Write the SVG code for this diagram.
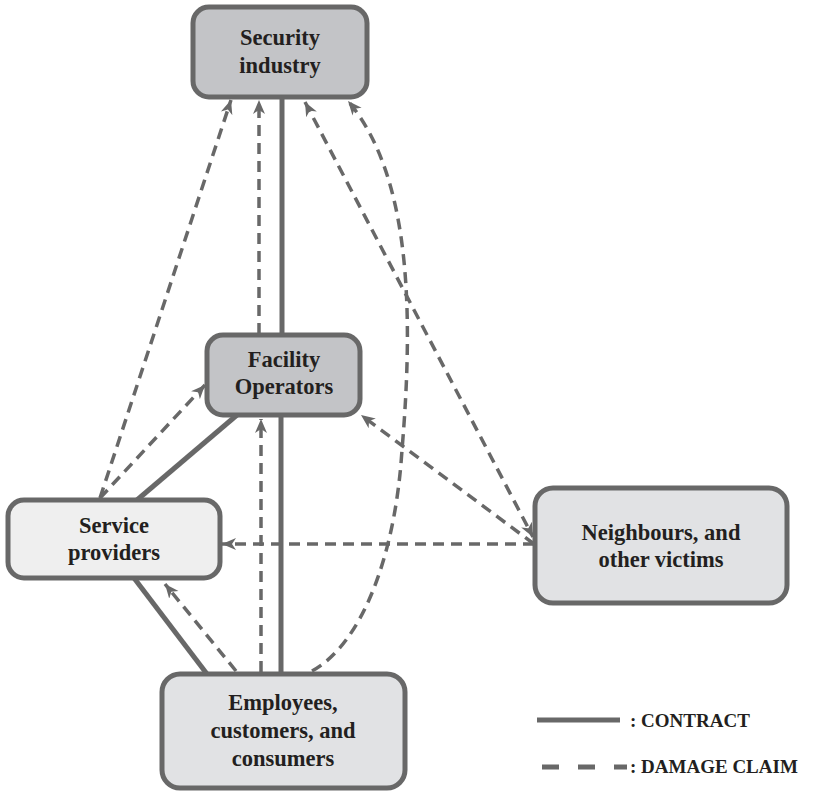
<svg xmlns="http://www.w3.org/2000/svg" width="815" height="791" viewBox="0 0 815 791">
<defs>
<style>
.box{stroke:#686868;stroke-width:5}
.dark{fill:#c3c4c7}
.light{fill:#e1e2e4}
.pale{fill:#efefef}
.lbl{font-family:'Liberation Serif','Times New Roman','DejaVu Serif',serif;font-weight:700;font-size:22.5px;fill:#231f20;text-anchor:middle}
.leg{font-family:'Liberation Serif','Times New Roman','DejaVu Serif',serif;font-weight:700;font-size:19px;fill:#231f20}
.solid{stroke:#686868;stroke-width:5;fill:none}
.dash{stroke:#686868;stroke-width:3.5;fill:none;stroke-dasharray:11 7}
</style>
<marker id="arr" markerUnits="userSpaceOnUse" markerWidth="16" markerHeight="14" refX="14" refY="6" orient="auto-start-reverse" viewBox="0 0 16 12">
<path d="M0,0 L14,6 L0,12 L4,6 Z" fill="#686868"/>
</marker>
</defs>
<rect width="815" height="791" fill="#ffffff"/>
<g id="connectors">
<path class="solid" d="M282,97 L282,335"/>
<path class="solid" d="M281,415 L281,673"/>
<path class="solid" d="M237,415 L137,500"/>
<path class="solid" d="M134,578 L207,674"/>
<path class="dash" d="M100,498 L231,100" marker-end="url(#arr)"/>
<path class="dash" d="M259,334 L259,100" marker-end="url(#arr)"/>
<path class="dash" d="M100,498 L205,385" marker-end="url(#arr)"/>
<path class="dash" d="M261,672 L261,419" marker-end="url(#arr)"/>
<path class="dash" d="M236,671 L165,584" marker-end="url(#arr)"/>
<path class="dash" d="M534,544 L222,544" marker-end="url(#arr)"/>
<path class="dash" d="M534,544 L361,415" marker-end="url(#arr)"/>
<path class="dash" d="M305,102 L533,537" marker-start="url(#arr)" marker-end="url(#arr)"/>
<path class="dash" d="M312,671 C360,645 395,560 402,450 C412,330 415,180 348,101" marker-end="url(#arr)"/>
</g>
<g id="security">
<rect class="box dark" x="193" y="7" width="174" height="90" rx="16"/>
<text class="lbl" x="280" y="45">Security</text>
<text class="lbl" x="280" y="73">industry</text>
</g>
<g id="facility">
<rect class="box dark" x="207" y="335" width="153" height="80" rx="16"/>
<text class="lbl" x="284" y="367">Facility</text>
<text class="lbl" x="284" y="394">Operators</text>
</g>
<g id="service">
<rect class="box pale" x="8" y="500" width="212" height="78" rx="16"/>
<text class="lbl" x="114" y="533">Service</text>
<text class="lbl" x="114" y="560">providers</text>
</g>
<g id="neighbours">
<rect class="box light" x="535" y="488" width="252" height="115" rx="18"/>
<text class="lbl" x="661" y="540">Neighbours, and</text>
<text class="lbl" x="661" y="567">other victims</text>
</g>
<g id="employees">
<rect class="box light" x="162" y="674" width="243" height="114" rx="18"/>
<text class="lbl" x="283" y="710">Employees,</text>
<text class="lbl" x="283" y="738">customers, and</text>
<text class="lbl" x="283" y="766">consumers</text>
</g>
<g id="legend">
<line class="solid" x1="537" y1="720" x2="620" y2="720"/>
<text class="leg" x="630" y="727">: CONTRACT</text>
<line class="solid" x1="542" y1="767" x2="627" y2="767" style="stroke-dasharray:17 19"/>
<text class="leg" x="630" y="773">: DAMAGE CLAIM</text>
</g>
</svg>
